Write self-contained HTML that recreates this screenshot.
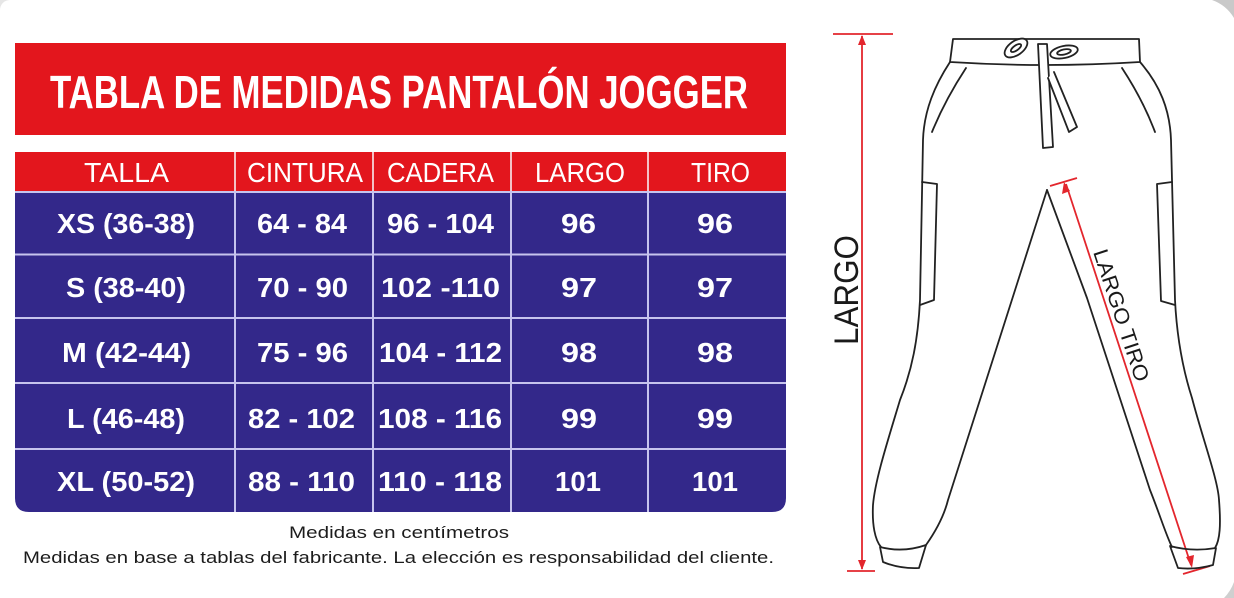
<!DOCTYPE html>
<html><head><meta charset="utf-8"><style>
html,body{margin:0;padding:0;background:#fff;}
svg{display:block;}
</style></head><body>
<svg width="1234" height="598" viewBox="0 0 1234 598" xmlns="http://www.w3.org/2000/svg">
<rect width="1234" height="598" fill="#ffffff"/>
<!-- gray corners -->
<path d="M1212,0 L1234,0 L1234,18 A42,42 0 0 0 1212,0 Z" fill="#c9c9c9"/>
<path d="M1234,582 A45,45 0 0 1 1224,598 L1234,598 Z" fill="#cfcfcf"/>
<path d="M0,0 L10,0 A10,10 0 0 0 0,10 Z" fill="#e6e6e6"/>

<!-- title banner -->
<rect x="15" y="43" width="771" height="92" fill="#e3161d"/>
<text x="50" y="108" font-family="Liberation Sans, sans-serif" font-weight="bold" font-size="46" fill="#fff" textLength="698" lengthAdjust="spacingAndGlyphs">TABLA DE MEDIDAS PANTALÓN JOGGER</text>

<!-- header row -->
<rect x="15" y="152" width="771" height="40" fill="#e3161d"/>
<!-- body -->
<path d="M15,191 L786,191 L786,498 Q786,512 772,512 L29,512 Q15,512 15,498 Z" fill="#33288a"/>

<!-- separators -->
<g stroke="#f4c2c6" stroke-width="2">
<line x1="235" y1="152" x2="235" y2="191"/>
<line x1="373" y1="152" x2="373" y2="191"/>
<line x1="511" y1="152" x2="511" y2="191"/>
<line x1="648" y1="152" x2="648" y2="191"/>
</g>
<g stroke="#c7c4ee" stroke-width="2">
<line x1="15" y1="192" x2="786" y2="192"/>
<line x1="15" y1="254.5" x2="786" y2="254.5"/>
<line x1="15" y1="318" x2="786" y2="318"/>
<line x1="15" y1="383" x2="786" y2="383"/>
<line x1="15" y1="449" x2="786" y2="449"/>
<line x1="235" y1="191" x2="235" y2="512"/>
<line x1="373" y1="191" x2="373" y2="512"/>
<line x1="511" y1="191" x2="511" y2="512"/>
<line x1="648" y1="191" x2="648" y2="512"/>
</g>

<g font-family="Liberation Sans, sans-serif" font-size="28" fill="#fff">
<text x="84" y="182" textLength="85" lengthAdjust="spacingAndGlyphs">TALLA</text>
<text x="247" y="182" textLength="116" lengthAdjust="spacingAndGlyphs">CINTURA</text>
<text x="387" y="182" textLength="107" lengthAdjust="spacingAndGlyphs">CADERA</text>
<text x="535" y="182" textLength="90" lengthAdjust="spacingAndGlyphs">LARGO</text>
<text x="691" y="182" textLength="59" lengthAdjust="spacingAndGlyphs">TIRO</text>
</g>

<g font-family="Liberation Sans, sans-serif" font-weight="bold" font-size="28" fill="#fff">
<text x="57" y="233" textLength="138" lengthAdjust="spacingAndGlyphs">XS (36-38)</text>
<text x="257" y="233" textLength="90" lengthAdjust="spacingAndGlyphs">64 - 84</text>
<text x="387" y="233" textLength="107" lengthAdjust="spacingAndGlyphs">96 - 104</text>
<text x="561" y="233" textLength="35" lengthAdjust="spacingAndGlyphs">96</text>
<text x="697" y="233" textLength="36" lengthAdjust="spacingAndGlyphs">96</text>

<text x="66" y="297" textLength="120" lengthAdjust="spacingAndGlyphs">S (38-40)</text>
<text x="257" y="297" textLength="91" lengthAdjust="spacingAndGlyphs">70 - 90</text>
<text x="381" y="297" textLength="119" lengthAdjust="spacingAndGlyphs">102 -110</text>
<text x="561" y="297" textLength="36" lengthAdjust="spacingAndGlyphs">97</text>
<text x="697" y="297" textLength="36" lengthAdjust="spacingAndGlyphs">97</text>

<text x="62" y="362" textLength="129" lengthAdjust="spacingAndGlyphs">M (42-44)</text>
<text x="257" y="362" textLength="91" lengthAdjust="spacingAndGlyphs">75 - 96</text>
<text x="379" y="362" textLength="123" lengthAdjust="spacingAndGlyphs">104 - 112</text>
<text x="561" y="362" textLength="36" lengthAdjust="spacingAndGlyphs">98</text>
<text x="697" y="362" textLength="36" lengthAdjust="spacingAndGlyphs">98</text>

<text x="67" y="428" textLength="118" lengthAdjust="spacingAndGlyphs">L (46-48)</text>
<text x="248" y="428" textLength="107" lengthAdjust="spacingAndGlyphs">82 - 102</text>
<text x="378" y="428" textLength="124" lengthAdjust="spacingAndGlyphs">108 - 116</text>
<text x="561" y="428" textLength="36" lengthAdjust="spacingAndGlyphs">99</text>
<text x="697" y="428" textLength="36" lengthAdjust="spacingAndGlyphs">99</text>

<text x="57" y="491" textLength="138" lengthAdjust="spacingAndGlyphs">XL (50-52)</text>
<text x="248" y="491" textLength="107" lengthAdjust="spacingAndGlyphs">88 - 110</text>
<text x="378" y="491" textLength="124" lengthAdjust="spacingAndGlyphs">110 - 118</text>
<text x="555" y="491" textLength="46" lengthAdjust="spacingAndGlyphs">101</text>
<text x="692" y="491" textLength="46" lengthAdjust="spacingAndGlyphs">101</text>
</g>

<!-- footer -->
<g font-family="Liberation Sans, sans-serif" font-size="17" fill="#1c1c1c">
<text x="289" y="538" textLength="220" lengthAdjust="spacingAndGlyphs">Medidas en centímetros</text>
<text x="23" y="563" textLength="751" lengthAdjust="spacingAndGlyphs">Medidas en base a tablas del fabricante. La elección es responsabilidad del cliente.</text>
</g>

<!-- LARGO measure -->
<g stroke="#e3262d" stroke-width="1.8" fill="none">
<line x1="833" y1="34" x2="893" y2="34"/>
<line x1="862" y1="36" x2="862" y2="569"/>
<line x1="847" y1="571" x2="875" y2="571"/>
<line x1="1050" y1="186" x2="1077" y2="178"/>
<line x1="1066" y1="184" x2="1191" y2="565"/>
<line x1="1183" y1="574" x2="1210" y2="566"/>
</g>
<g fill="#e3262d">
<polygon points="862,35 858,45 866,45"/>
<polygon points="862,570 858,560 866,560"/>
<polygon points="1064,182 1062,194 1070,191"/>
<polygon points="1192,568 1186,557 1194,555"/>
</g>
<text transform="translate(858,345) rotate(-90)" font-family="Liberation Sans, sans-serif" font-size="34" fill="#1a1a1a" textLength="110" lengthAdjust="spacingAndGlyphs">LARGO</text>
<text transform="translate(1093,252) rotate(71.8)" font-family="Liberation Sans, sans-serif" font-size="21" fill="#1a1a1a" textLength="138" lengthAdjust="spacingAndGlyphs">LARGO TIRO</text>

<!-- pants -->
<g stroke="#222" stroke-width="1.8" fill="none" stroke-linejoin="round" stroke-linecap="round">
<path d="M953,39 L1139,39 L1140,62 Q1045,68 950,62 Z"/>
<path d="M950,62 C935,85 924,110 923,140 L920,300 C918,340 912,370 900,400 C888,440 875,480 873,505 C872,525 875,540 881,547"/>
<path d="M880,547 Q903,553 926,545 L919,568 Q900,569 883,562 Z"/>
<path d="M926,545 C938,528 945,512 948,500 L1047,190"/>
<path d="M1047,190 L1087,298 L1150,490 C1160,515 1166,535 1172,547"/>
<path d="M1140,62 C1160,85 1170,110 1171,140 L1175,300 C1177,340 1183,370 1192,398 C1203,440 1218,480 1219,500 C1221,525 1220,540 1215,548"/>
<path d="M1170,546 Q1192,552 1216,548 L1213,565 Q1195,570 1178,568 Z"/>
<path d="M966,68 Q945,100 932,132"/>
<path d="M1122,68 Q1143,100 1155,132"/>
<path d="M922,182 L937,184 L934,300 L920,305"/>
<path d="M1172,182 L1157,184 L1161,301 L1175,305"/>
<ellipse cx="1016" cy="48" rx="13" ry="7" transform="rotate(-35 1016 48)" fill="#fff"/>
<ellipse cx="1016" cy="48" rx="6" ry="2.5" transform="rotate(-35 1016 48)"/>
<ellipse cx="1064" cy="52" rx="14" ry="6" transform="rotate(-12 1064 52)" fill="#fff"/>
<ellipse cx="1064" cy="52" rx="7" ry="2.5" transform="rotate(-12 1064 52)"/>
<path d="M1038,44 L1047,44 L1053,147 L1043,148 Z" fill="#fff"/>
<path d="M1048,78 L1069,132 L1077,127 L1054,72" fill="#fff"/>
</g>
</svg>
</body></html>
